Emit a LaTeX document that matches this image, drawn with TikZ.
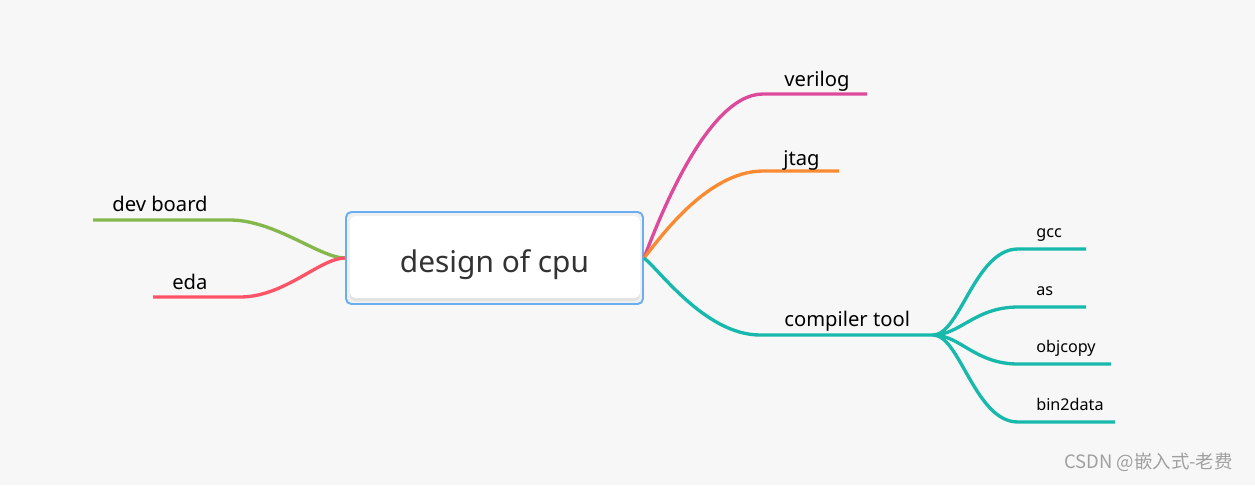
\documentclass[tikz,border=0pt]{standalone}
\usepackage{fontspec}
\setmainfont{Noto Sans}
\newfontfamily\cjk{Noto Sans CJK SC}
\usetikzlibrary{positioning,calc}
\definecolor{paper}{HTML}{F7F7F7}
\definecolor{rootblue}{HTML}{6AAEF2}
\definecolor{rootgap}{HTML}{F0F0F0}
\definecolor{rootshade}{HTML}{E2E2E2}
\definecolor{ink}{HTML}{333333}
\definecolor{vlogc}{HTML}{DE4A9B}
\definecolor{jtagc}{HTML}{FA8A32}
\definecolor{toolc}{HTML}{16B9AB}
\definecolor{boardc}{HTML}{84B84B}
\definecolor{edac}{HTML}{FF5468}
\definecolor{wmgray}{HTML}{A0A0A0}

\begin{document}
\begin{tikzpicture}[x=0.02cm, y=-0.02cm,
  branch/.style={line width=1.9pt},
  lbl/.style={anchor=base west, inner sep=0pt, text=black, font=\fontsize{11.5}{13}\selectfont},
  sublbl/.style={lbl, font=\fontsize{9.2}{11}\selectfont}]
  \fill[paper] (0,0) rectangle (1255,485);
  \useasboundingbox (0,0) rectangle (1255,485);
  % central box
  \fill[rootgap, rounded corners=3pt] (346,212) rectangle (643,304);
  \fill[rootshade, rounded corners=3pt] (350,217) rectangle (640,301);
  \fill[white, rounded corners=3pt] (350,216) rectangle (640,298);
  \node[draw=rootblue, line width=1.1pt, rounded corners=3pt, minimum width=5.94cm,
    minimum height=1.84cm, text height=16pt, text depth=0pt, text=ink,
    font=\fontsize{17}{20}\selectfont] (root) at (494.5,258) {design of cpu};
  % right side
  \coordinate (vlog-l) at (763,94);   \coordinate (vlog-r) at (867,94);
  \coordinate (jtag-l) at (763,171);  \coordinate (jtag-r) at (839,171);
  \coordinate (tool-l) at (760,335);  \coordinate (tool-r) at (933,335);
  \draw[branch, vlogc] (root.east) .. controls (655,230) and (705,94) .. (vlog-l) -- (vlog-r);
  \draw[branch, jtagc] (root.east) .. controls (655,245) and (705,171) .. (jtag-l) -- (jtag-r);
  \draw[branch, toolc] (root.east) .. controls (658,268) and (705,335) .. (tool-l) -- (tool-r);
  \node[lbl] (verilog) at (784,86) {verilog};
  \node[lbl] (jtag) at (783,165) {jtag};
  \node[lbl] (tool) at (784,326) {compiler tool};
  % compiler tool children
  \foreach \name/\y/\xend in {gcc/249/1086, as/307/1086, objcopy/364/1111, bin2data/422/1115} {
    \coordinate (\name-l) at (1018,\y);
    \coordinate (\name-r) at (\xend,\y);
    \draw[branch, toolc] (tool-r) .. controls (960,335) and (975,\y) .. (\name-l) -- (\name-r);
    \node[sublbl] (\name) at (1036,\y-12) {\name};
  }
  % left side
  \coordinate (board-r) at (230,220); \coordinate (board-l) at (93,220);
  \coordinate (eda-r) at (240,297);   \coordinate (eda-l) at (153,297);
  \draw[branch, boardc] (root.west) .. controls (320,258) and (275,220) .. (board-r) -- (board-l);
  \draw[branch, edac] (root.west) .. controls (320,258) and (285,297) .. (eda-r) -- (eda-l);
  \node[lbl] (board) at (112,211) {dev board};
  \node[lbl] (eda) at (172,289) {eda};
  % watermark
  \node[anchor=base west, inner sep=0pt, text=wmgray, font=\cjk\fontsize{10.5}{12}\selectfont] (mark) at (1064,468) {CSDN @嵌入式-老费};
\end{tikzpicture}
\end{document}
